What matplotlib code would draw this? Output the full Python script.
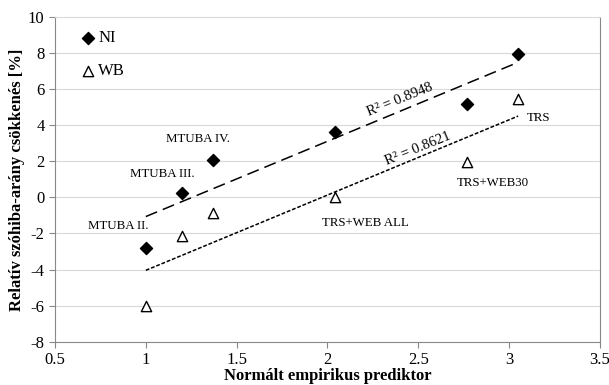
import matplotlib.pyplot as plt
import numpy as np

plt.rcParams['font.family'] = ['Liberation Serif', 'DejaVu Serif']
plt.rcParams['axes.unicode_minus'] = False

# Adatok
x_vals = [1.0, 1.2, 1.37, 2.04, 2.77, 3.05]
ni_vals = [-2.82, 0.25, 2.07, 3.63, 5.16, 7.97]
wb_vals = [-6.0, -2.15, -0.88, 0.0, 1.98, 5.43]
labels = ['MTUBA II.', 'MTUBA III.', 'MTUBA IV.', 'TRS+WEB ALL', 'TRS+WEB30', 'TRS']

fig = plt.figure(figsize=(6.09, 3.85), dpi=100)
ax = fig.add_axes([0.0903, 0.1125, 0.8947, 0.8435])

ax.scatter(x_vals, ni_vals, marker='D', s=38, color='black', zorder=3, label='NI')
ax.scatter(x_vals, wb_vals, marker='^', s=55, facecolors='white', edgecolors='black',
           linewidths=1.0, zorder=3, label='WB')

# Trendvonalak
xs = np.array([min(x_vals), max(x_vals)])
p_ni = np.polyfit(x_vals, ni_vals, 1)
p_wb = np.polyfit(x_vals, wb_vals, 1)
ax.plot(xs, np.polyval(p_ni, xs), color='black', lw=1.1, dashes=(8, 4), zorder=2)
ax.plot(xs, np.polyval(p_wb, xs), color='black', lw=1.1, dashes=(2.5, 1.2), zorder=2)

ax.text(2.4, 5.4, 'R² = 0.8948', fontsize=10.5, rotation=22, ha='center', va='center')
ax.text(2.5, 2.7, 'R² = 0.8621', fontsize=10.5, rotation=22, ha='center', va='center')

# Feliratok
ax.text(1.29, 3.25, 'MTUBA IV.', fontsize=9.3, ha='center', va='center')
ax.text(1.09, 1.3, 'MTUBA III.', fontsize=9.3, ha='center', va='center')
ax.text(0.85, -1.6, 'MTUBA II.', fontsize=9.3, ha='center', va='center')
ax.text(2.21, -1.4, 'TRS+WEB ALL', fontsize=9.3, ha='center', va='center')
ax.text(2.91, 0.8, 'TRS+WEB30', fontsize=9.3, ha='center', va='center')
ax.text(3.16, 4.4, 'TRS', fontsize=9.3, ha='center', va='center')

ax.set_xlim(0.5, 3.5)
ax.set_ylim(-8, 10)
ax.set_xticks([0.5, 1, 1.5, 2, 2.5, 3, 3.5])
ax.set_xticklabels(['0.5', '1', '1.5', '2', '2.5', '3', '3.5'])
ax.set_yticks(np.arange(-8, 11, 2))
ax.tick_params(labelsize=12, length=4, color='#888888', width=0.8)
ax.yaxis.grid(True, color='#d9d9d9', lw=0.8)
ax.set_axisbelow(True)
for side in ['left', 'bottom', 'right']:
    ax.spines[side].set_color('#888888')
ax.spines['top'].set_color('#d9d9d9')

ax.set_xlabel('Normált empirikus prediktor', fontsize=12, fontweight='bold', labelpad=0)
ax.set_ylabel('Relatív szóhiba-arány csökkenés [%]', fontsize=12, fontweight='bold', labelpad=2)

ax.legend(loc='upper left', frameon=False, fontsize=12, handletextpad=0.1,
          handlelength=1.0, borderpad=0, borderaxespad=0, labelspacing=1.05,
          bbox_to_anchor=(0.046, 0.96))

fig.savefig('out.png', dpi=100)
